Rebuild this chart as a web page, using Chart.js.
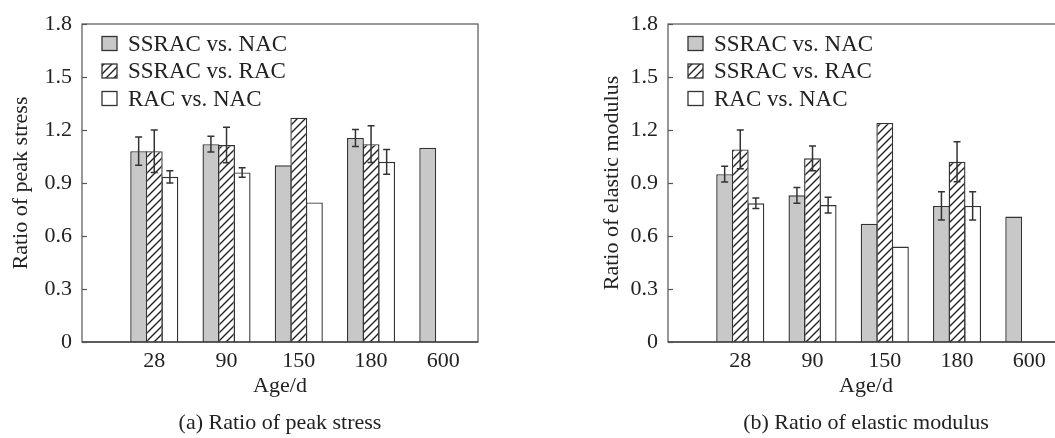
<!DOCTYPE html>
<html><head><meta charset="utf-8">
<script src="https://cdn.jsdelivr.net/npm/chart.js@4.4.1/dist/chart.umd.min.js"></script>
<style>
html,body{margin:0;padding:0;background:#fff;overflow:hidden;width:1055px;height:438px;position:relative;}
.wrap{position:absolute;top:0;width:540px;height:438px;}
#wrapA{left:0;}
#wrapB{left:540px;}
</style></head><body>
<div class="wrap" id="wrapA"><canvas id="chartA" width="540" height="438"></canvas></div>
<div class="wrap" id="wrapB"><canvas id="chartB" width="540" height="438"></canvas></div>
<script>
// ---- data ----
const ages = ['28', '90', '150', '180', '600'];
const seriesNames = ['SSRAC vs. NAC', 'SSRAC vs. RAC', 'RAC vs. NAC'];
const yTickLabels = ['0', '0.3', '0.6', '0.9', '1.2', '1.5', '1.8'];

const peakSSRAC_NAC = [1.08, 1.12, 1.00, 1.155, 1.10];
const peakSSRAC_NAC_err = [0.08, 0.045, 0, 0.048, 0];
const peakSSRAC_RAC = [1.08, 1.115, 1.27, 1.12, null];
const peakSSRAC_RAC_err = [0.12, 0.10, 0, 0.104, 0];
const peakRAC_NAC = [0.935, 0.96, 0.79, 1.02, null];
const peakRAC_NAC_err = [0.035, 0.027, 0, 0.07, 0];

const modSSRAC_NAC = [0.95, 0.83, 0.67, 0.77, 0.71];
const modSSRAC_NAC_err = [0.045, 0.044, 0, 0.08, 0];
const modSSRAC_RAC = [1.09, 1.04, 1.24, 1.02, null];
const modSSRAC_RAC_err = [0.11, 0.07, 0, 0.113, 0];
const modRAC_NAC = [0.785, 0.775, 0.54, 0.77, null];
const modRAC_NAC_err = [0.03, 0.045, 0, 0.08, 0];

// ---- styles ----
const FONT = "'Liberation Serif', 'Times New Roman', serif";
const TEXT = '#222';
const EDGE = '#333';
const GRAY = '#c8c8c8';

function hatchPattern() {
  const c = document.createElement('canvas');
  c.width = 8; c.height = 8;
  const g = c.getContext('2d');
  g.fillStyle = '#fff';
  g.fillRect(0, 0, 8, 8);
  g.strokeStyle = '#222';
  g.lineWidth = 1.4;
  g.beginPath();
  g.moveTo(-1, 9); g.lineTo(9, -1);
  g.moveTo(-1, 1); g.lineTo(1, -1);
  g.moveTo(7, 9); g.lineTo(9, 7);
  g.stroke();
  return document.createElement('canvas').getContext('2d').createPattern(c, 'repeat');
}
const HATCH = hatchPattern();
const fills = [GRAY, HATCH, '#ffffff'];

function points(vals, errs) {
  const out = [];
  vals.forEach((v, i) => { if (v !== null) out.push({ x: i + 1, y: v, e: errs[i] }); });
  return out;
}

const errorBars = {
  id: 'errorBars',
  afterDatasetsDraw(chart) {
    const ctx = chart.ctx, ys = chart.scales.y;
    ctx.save();
    ctx.strokeStyle = EDGE;
    ctx.lineWidth = 1.5;
    chart.data.datasets.forEach((ds, di) => {
      const meta = chart.getDatasetMeta(di);
      meta.data.forEach((bar, j) => {
        const p = ds.data[j];
        if (!p.e) return;
        const x = bar.x;
        const y1 = ys.getPixelForValue(p.y + p.e);
        const y2 = ys.getPixelForValue(p.y - p.e);
        ctx.beginPath();
        ctx.moveTo(x, y1); ctx.lineTo(x, y2);
        ctx.moveTo(x - 3.5, y1); ctx.lineTo(x + 3.5, y1);
        ctx.moveTo(x - 3.5, y2); ctx.lineTo(x + 3.5, y2);
        ctx.stroke();
      });
    });
    ctx.restore();
  }
};

const frameAndLegend = {
  id: 'frameAndLegend',
  afterDraw(chart) {
    const ctx = chart.ctx, a = chart.chartArea, ys = chart.scales.y;
    ctx.save();
    // frame
    ctx.strokeStyle = '#555';
    ctx.lineWidth = 1.2;
    ctx.strokeRect(a.left, a.top, a.right - a.left, a.bottom - a.top);
    ctx.strokeStyle = '#222';
    ctx.beginPath(); ctx.moveTo(a.left, a.bottom); ctx.lineTo(a.right, a.bottom); ctx.stroke();
    // inward y ticks
    ctx.strokeStyle = '#555';
    ys.ticks.forEach(t => {
      const y = Math.round(ys.getPixelForValue(t.value)) + 0.5;
      ctx.beginPath(); ctx.moveTo(a.left, y); ctx.lineTo(a.left + 5, y); ctx.stroke();
    });
    // legend
    ctx.font = '23px ' + FONT;
    ctx.textBaseline = 'middle';
    ctx.textAlign = 'left';
    chart.data.datasets.forEach((ds, i) => {
      const bx = a.left + 20, cy = a.top + 19.5 + i * 27.5;
      ctx.fillStyle = ds.backgroundColor;
      ctx.fillRect(bx, cy - 7, 15, 14);
      ctx.strokeStyle = EDGE;
      ctx.lineWidth = 1.3;
      ctx.strokeRect(bx, cy - 7, 15, 14);
      ctx.fillStyle = TEXT;
      ctx.fillText(ds.label, bx + 26, cy + 1);
    });
    ctx.restore();
  }
};

function makeChart(id, yTitle, caption, series, pad, yWidth, yTitlePad) {
  const datasets = series.map((s, i) => ({
    label: seriesNames[i],
    data: points(s[0], s[1]),
    backgroundColor: fills[i],
    borderColor: EDGE,
    borderWidth: 1.4,
    borderSkipped: 'bottom',
    barPercentage: 1.08,
    categoryPercentage: 0.648
  }));
  return new Chart(document.getElementById(id), {
    type: 'bar',
    data: { datasets },
    plugins: [errorBars, frameAndLegend],
    options: {
      responsive: false,
      animation: false,
      devicePixelRatio: 1,
      layout: { padding: pad },
      plugins: {
        legend: { display: false },
        tooltip: { enabled: false },
        title: {
          display: true, position: 'bottom', fullSize: false, text: caption, color: TEXT,
          font: { family: FONT, size: 22, weight: 'normal' },
          padding: { top: 4, bottom: 2 }
        }
      },
      scales: {
        x: {
          type: 'linear', min: 0, max: 5.48, offset: false,
          grid: { display: false, drawTicks: false }, border: { display: false },
          afterFit(s) { s.height = 63.6; },
          ticks: {
            stepSize: 1, includeBounds: false, autoSkip: false, maxRotation: 0,
            padding: 6, color: TEXT, font: { family: FONT, size: 22 },
            callback: (v) => (v >= 1 && v <= ages.length ? ages[v - 1] : '')
          },
          title: {
            display: true, text: 'Age/d', color: TEXT,
            font: { family: FONT, size: 22 }, padding: { top: 0, bottom: 6 }
          }
        },
        y: {
          min: 0, max: 1.8,
          grid: { display: false, drawTicks: false }, border: { display: false },
          afterFit(s) { s.width = yWidth; },
          ticks: {
            stepSize: 0.3, padding: 10, color: TEXT, font: { family: FONT, size: 22 },
            callback: (v, i) => yTickLabels[i]
          },
          title: {
            display: true, text: yTitle, color: TEXT,
            font: { family: FONT, size: 22 }, padding: { top: yTitlePad, bottom: 0 }
          }
        }
      }
    }
  });
}

makeChart('chartA', 'Ratio of peak stress', '(a) Ratio of peak stress',
  [[peakSSRAC_NAC, peakSSRAC_NAC_err], [peakSSRAC_RAC, peakSSRAC_RAC_err], [peakRAC_NAC, peakRAC_NAC_err]],
  { left: 0, right: 62, top: 24, bottom: 0 }, 82, 8);

makeChart('chartB', 'Ratio of elastic modulus', '(b) Ratio of elastic modulus',
  [[modSSRAC_NAC, modSSRAC_NAC_err], [modSSRAC_RAC, modSSRAC_RAC_err], [modRAC_NAC, modRAC_NAC_err]],
  { left: 50, right: 16, top: 24, bottom: 0 }, 78, 9);
</script>
</body></html>
